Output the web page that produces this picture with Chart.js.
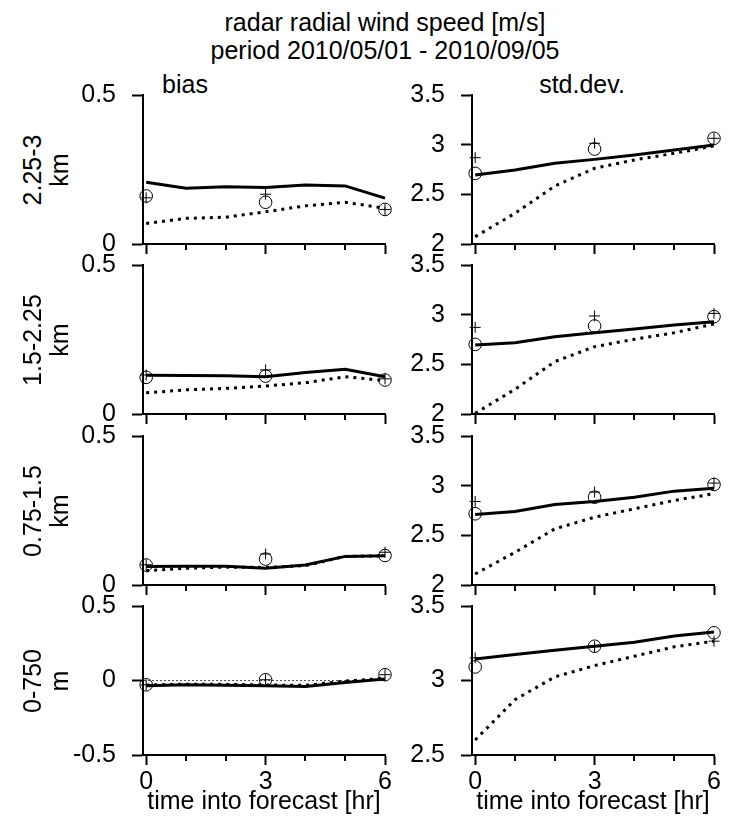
<!DOCTYPE html>
<html><head><meta charset="utf-8">
<script src="https://cdn.jsdelivr.net/npm/chart.js@4.4.0/dist/chart.umd.min.js"></script>
<style>
body{margin:0;background:#fff;width:740px;height:824px;position:relative;overflow:hidden;font-family:'Liberation Sans',Arial,Helvetica,sans-serif;color:#000}
.t{position:absolute;white-space:nowrap}
canvas{position:absolute}
</style></head><body>
<div class="t" style="left:385px;top:8px;transform:translateX(-50%);font-size:25px;line-height:28px;text-align:center">radar radial wind speed [m/s]<br>period 2010/05/01 - 2010/09/05</div>
<div class="t" style="left:185px;top:72px;transform:translateX(-50%);font-size:25px;line-height:24px">bias</div>
<div class="t" style="left:582px;top:72px;transform:translateX(-50%);font-size:25px;line-height:24px">std.dev.</div>
<script>
// ---- data ----
const hours = [0, 1, 2, 3, 4, 5, 6];
const obsHours = [0, 3, 6];
const rowLabels = [['2.25-3', 'km'], ['1.5-2.25', 'km'], ['0.75-1.5', 'km'], ['0-750', 'm']];
const biasRange = [[0, 0.5], [0, 0.5], [0, 0.5], [-0.5, 0.5]];
const stdRange = [[2, 3.5], [2, 3.5], [2, 3.5], [2.5, 3.5]];

const biasSolid = [
  [0.207, 0.187, 0.192, 0.190, 0.198, 0.195, 0.154],
  [0.130, 0.129, 0.128, 0.125, 0.139, 0.150, 0.125],
  [0.062, 0.063, 0.063, 0.056, 0.067, 0.096, 0.098],
  [-0.035, -0.029, -0.032, -0.035, -0.040, -0.013, 0.010]
];
const biasDotted = [
  [0.069, 0.086, 0.090, 0.108, 0.128, 0.140, 0.120],
  [0.071, 0.081, 0.086, 0.094, 0.105, 0.125, 0.112],
  [0.048, 0.056, 0.060, 0.059, 0.065, 0.096, 0.098],
  [-0.030, -0.025, -0.026, -0.030, -0.033, -0.004, 0.015]
];
const biasCircle = [
  [0.161, 0.140, 0.116],
  [0.123, 0.127, 0.114],
  [0.067, 0.087, 0.099],
  [-0.029, 0.005, 0.039]
];
const biasPlus = [
  [0.155, 0.167, 0.116],
  [0.131, 0.148, 0.118],
  [0.068, 0.104, 0.110],
  [-0.029, 0.005, 0.039]
];
const stdSolid = [
  [2.695, 2.745, 2.812, 2.852, 2.896, 2.946, 2.997],
  [2.695, 2.718, 2.778, 2.818, 2.856, 2.896, 2.929],
  [2.710, 2.740, 2.811, 2.841, 2.884, 2.945, 2.975],
  [3.145, 3.174, 3.203, 3.230, 3.257, 3.298, 3.325]
];
const stdDotted = [
  [2.074, 2.309, 2.584, 2.762, 2.846, 2.913, 2.987],
  [2.007, 2.249, 2.527, 2.678, 2.752, 2.818, 2.906],
  [2.111, 2.329, 2.565, 2.683, 2.767, 2.851, 2.919],
  [2.601, 2.871, 3.024, 3.100, 3.163, 3.226, 3.264]
];
const stdCircle = [
  [2.711, 2.956, 3.064],
  [2.701, 2.886, 2.980],
  [2.717, 2.884, 3.012],
  [3.091, 3.230, 3.320]
];
const stdPlus = [
  [2.869, 3.014, 3.064],
  [2.872, 2.987, 3.013],
  [2.841, 2.935, 3.026],
  [3.152, 3.227, 3.264]
];
const xTitle = 'time into forecast [hr]';

// ---- layout ----
const FONT = "'Liberation Sans', Arial, Helvetica, sans-serif";
Chart.defaults.font.family = FONT;
Chart.defaults.color = '#000';
const areaTops = [95, 265, 436, 606];
const areaH = 149;
const padTop = 15;

const minorTicks = {
  id: 'minorTicks',
  afterDraw(chart) {
    const xs = chart.scales.x, ctx = chart.ctx;
    ctx.save();
    ctx.strokeStyle = '#000';
    ctx.lineWidth = 2;
    xs.ticks.forEach(t => {
      if (t.value % 3 !== 0) {
        const px = Math.round(xs.getPixelForValue(t.value));
        ctx.beginPath();
        ctx.moveTo(px, xs.top);
        ctx.lineTo(px, xs.top + 6);
        ctx.stroke();
      }
    });
    ctx.restore();
  }
};

function xy(xs, ys) { return xs.map((x, i) => ({ x: x, y: ys[i] })); }
function noPad(s) { s.paddingTop = 0; s.paddingBottom = 0; s.paddingLeft = 0; s.paddingRight = 0; }

function makePanel(col, row) {
  const isBottom = row === 3;
  const H = isBottom ? 62 : 16;
  const left = col === 0 ? 60 : 390;
  const yW = col === 0 ? 83 : 82;
  const width = 340;
  const rightPad = col === 0 ? 15 : 16;
  const height = padTop + areaH + H;
  const cv = document.createElement('canvas');
  cv.width = width; cv.height = height;
  cv.style.left = left + 'px';
  cv.style.top = (areaTops[row] - padTop) + 'px';
  cv.style.width = width + 'px'; cv.style.height = height + 'px';
  document.body.appendChild(cv);
  const solid = col === 0 ? biasSolid[row] : stdSolid[row];
  const dotted = col === 0 ? biasDotted[row] : stdDotted[row];
  const circ = col === 0 ? biasCircle[row] : stdCircle[row];
  const plus = col === 0 ? biasPlus[row] : stdPlus[row];
  const range = col === 0 ? biasRange[row] : stdRange[row];
  const zeroLine = col === 0 && isBottom;
  new Chart(cv, {
    type: 'line',
    data: {
      datasets: [
        { data: xy(obsHours, circ), showLine: false, pointStyle: 'circle', pointRadius: 6.3, pointBorderWidth: 1, pointBorderColor: '#000', pointBackgroundColor: 'rgba(0,0,0,0)', clip: false },
        { data: xy(obsHours, plus), showLine: false, pointStyle: 'cross', pointRadius: 5.5, pointBorderWidth: 1, pointBorderColor: '#000', clip: false },
        { data: xy(hours, solid), borderColor: '#000', borderWidth: 3, pointRadius: 0, tension: 0, clip: false },
        { data: xy(hours, dotted), borderColor: '#000', borderWidth: 3, borderDash: [3, 5], pointRadius: 0, tension: 0, clip: false }
      ]
    },
    options: {
      responsive: false, animation: false, devicePixelRatio: 1,
      layout: { padding: { top: padTop, right: rightPad, left: 0, bottom: 0 } },
      plugins: { legend: { display: false }, tooltip: { enabled: false } },
      scales: {
        x: {
          type: 'linear', min: -0.08, max: 6,
          afterBuildTicks: s => { s.ticks = hours.map(v => ({ value: v })); },
          afterFit: s => { s.height = H; noPad(s); },
          ticks: { display: isBottom, autoSkip: false, maxRotation: 0, padding: 2, font: { size: 25 }, color: '#000',
                   callback: v => (v % 3 === 0 ? String(v) : '') },
          grid: { drawOnChartArea: false, tickLength: 10, tickWidth: 2,
                  tickColor: c => (c.tick && c.tick.value % 3 === 0 ? '#000' : 'rgba(0,0,0,0)') },
          border: { color: '#000', width: 2 },
          title: { display: isBottom, text: xTitle, font: { size: 25 }, color: '#000', padding: { top: 0, bottom: 0 } }
        },
        y: {
          type: 'linear', min: range[0], max: range[1],
          ticks: { stepSize: 0.5, padding: 16, font: { size: 25 }, color: '#000', callback: v => String(v) },
          afterFit: s => { s.width = yW; noPad(s); },
          grid: { drawOnChartArea: zeroLine, tickLength: 11, tickWidth: 2, tickColor: '#000', lineWidth: 1,
                  color: c => (zeroLine && c.tick && c.tick.value === 0 ? '#555' : 'rgba(0,0,0,0)') },
          border: { color: '#000', width: 2, dash: [2, 2] }
        }
      }
    },
    plugins: [minorTicks]
  });
}

for (let r = 0; r < 4; r++) {
  const lab = document.createElement('div');
  lab.className = 't';
  lab.style.cssText = 'left:45px;top:' + (areaTops[r] + areaH / 2) + 'px;width:200px;text-align:center;font-size:25px;line-height:26.5px;transform:translate(-50%,-50%) rotate(-90deg)';
  lab.innerHTML = rowLabels[r][0] + '<br>' + rowLabels[r][1];
  document.body.appendChild(lab);
  makePanel(0, r);
  makePanel(1, r);
}
</script>
</body></html>
